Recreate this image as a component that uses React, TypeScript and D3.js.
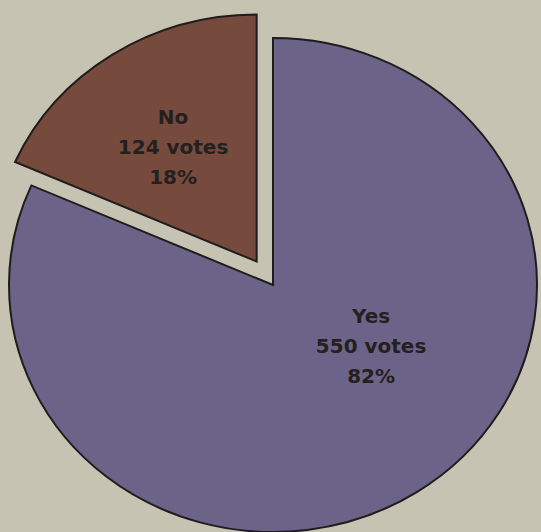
import * as React from 'react';
import { pie, arc, type PieArcDatum } from 'd3';

const categories = ['Yes', 'No'];
const votes = [550, 124];
const percentLabels = ['82%', '18%'];

const colors = ['#6c6488', '#764a3d'];

// label placement: fraction of radius + angle tweak (deg) from the slice mid-angle
const labelRadius = [0.446, 0.56];
const labelTurn = [-23.3, -1.3];
const explode = [0, 28];

const W = 541;
const H = 532;
const cx = 273;
const cy = 285;
const R = 247;
const sx = 264 / 247; // the scan is slightly wider than tall

export default function App() {
  const arcs = pie<number>().sort(null).startAngle(0).endAngle(Math.PI * 2)(votes);
  const arcGen = arc<PieArcDatum<number>>().innerRadius(0).outerRadius(R);

  const polar = (a: number, r: number): [number, number] => [Math.sin(a) * r * sx, -Math.cos(a) * r];

  return (
    <svg width={W} height={H} viewBox={`0 0 ${W} ${H}`} style={{ display: 'block' }}>
      <style>{`body{margin:0}`}</style>
      <rect width={W} height={H} fill="#c7c3b3" />
      {arcs.map((d, i) => {
        const mid = (d.startAngle + d.endAngle) / 2;
        const [ox, oy] = polar(mid, explode[i]);
        return (
          <g key={categories[i]} transform={`translate(${cx + ox},${cy + oy}) scale(${sx},1)`}>
            <path
              d={arcGen(d) ?? ''}
              fill={colors[i]}
              stroke="#1f1c1c"
              strokeWidth={2}
              strokeLinejoin="miter"
              vectorEffect="non-scaling-stroke"
            />
          </g>
        );
      })}
      {arcs.map((d, i) => {
        const mid = (d.startAngle + d.endAngle) / 2;
        const [ox, oy] = polar(mid, explode[i]);
        const a = mid + (labelTurn[i] * Math.PI) / 180;
        const [lx, ly] = polar(a, R * labelRadius[i]);
        const x = cx + ox + lx;
        const y = cy + oy + ly;
        const lines = [categories[i], `${votes[i]} votes`, percentLabels[i]];
        return (
          <text
            key={`lbl-${categories[i]}`}
            x={x}
            textAnchor="middle"
            fontFamily="'DejaVu Sans', Verdana, sans-serif"
            fontWeight="bold"
            fontSize={20}
            fill="#24201e"
          >
            {lines.map((t, j) => (
              <tspan key={j} x={x} y={y + 7 + (j - 1) * 30}>
                {t}
              </tspan>
            ))}
          </text>
        );
      })}
    </svg>
  );
}
